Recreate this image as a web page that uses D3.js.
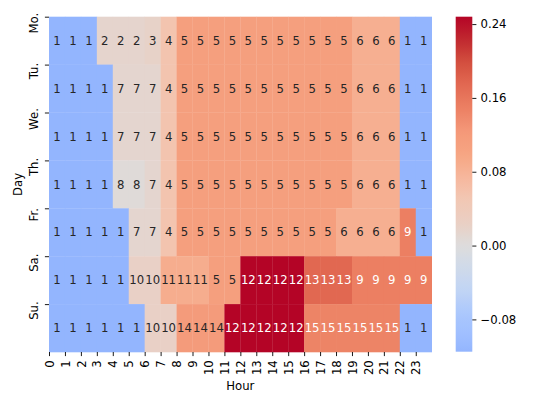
<!DOCTYPE html>
<html>
<head>
<meta charset="utf-8">
<script src="https://cdn.jsdelivr.net/npm/d3@7"></script>
<style>
  body { margin: 0; background: #fff; }
  text { font-family: "DejaVu Sans", sans-serif; }
</style>
</head>
<body>
<script>
// rows / columns of the heatmap
var days = ["Mo.", "Tu.", "We.", "Th.", "Fr.", "Sa.", "Su."];
var hours = d3.range(24);

// cluster label shown in each cell (one row per day)
var mo = [1,1,1,2,2,2,3,4,5,5,5,5,5,5,5,5,5,5,5,6,6,6,1,1];
var tu = [1,1,1,1,7,7,7,4,5,5,5,5,5,5,5,5,5,5,5,6,6,6,1,1];
var we = [1,1,1,1,7,7,7,4,5,5,5,5,5,5,5,5,5,5,5,6,6,6,1,1];
var th = [1,1,1,1,8,8,7,4,5,5,5,5,5,5,5,5,5,5,5,6,6,6,1,1];
var fr = [1,1,1,1,1,7,7,4,5,5,5,5,5,5,5,5,5,5,6,6,6,6,9,1];
var sa = [1,1,1,1,1,10,10,11,11,11,5,5,12,12,12,12,13,13,13,9,9,9,9,9];
var su = [1,1,1,1,1,1,10,10,14,14,14,12,12,12,12,12,15,15,15,15,15,15,1,1];
var labels = [mo, tu, we, th, fr, sa, su];

// colour value of each cluster (index = cluster label)
var clusterValue = [null, -0.115, 0.015, 0.02, 0.055, 0.11, 0.085, 0.013, 0.004,
                    0.15, 0.022, 0.088, 0.248, 0.175, 0.118, 0.145];

var cbTicks = [-0.08, 0.00, 0.08, 0.16, 0.24];
var vmin = -0.115, vmax = 0.248, center = 0;

// matplotlib "coolwarm"
var cwPos = [0, 0.25, 0.3, 0.35, 0.4, 0.45, 0.5, 0.55, 0.6, 0.65, 0.7, 0.75, 0.8, 0.85, 0.9, 0.95, 1];
var cwCol = ["#3b4cc0", "#8db0fe", "#9ebeff", "#aac7fd", "#c0d4f5", "#cfdaea", "#dddcdc",
             "#eacfc3", "#f2c8b4", "#f6b79c", "#f6a582", "#f49879", "#ec8063", "#e26952",
             "#d34f3f", "#c0282f", "#b40426"];
var coolwarm = d3.scaleLinear().domain(cwPos).range(cwCol).interpolate(d3.interpolateRgb);
var span = Math.max(vmax - center, center - vmin);
function color(v) { return coolwarm(0.5 + (v - center) / (2 * span)); }

function textColor(c) {
  var rgb = d3.rgb(c);
  var lin = [rgb.r, rgb.g, rgb.b].map(function(u) {
    u = u / 255;
    return u <= 0.03928 ? u / 12.92 : Math.pow((u + 0.055) / 1.055, 2.4);
  });
  var lum = 0.2126 * lin[0] + 0.7152 * lin[1] + 0.0722 * lin[2];
  return lum > 0.408 ? "#262626" : "#ffffff";
}

var W = 540, H = 405;
var fs = 11.7, tick = 4.1;
var plot = {left: 49, right: 431.7, top: 16.7, bottom: 352};
var cb = {left: 455.7, right: 472.3, top: 16.7, bottom: 351.7};

var svg = d3.select("body").append("svg")
    .attr("width", W)
    .attr("height", H);

var x = d3.scaleLinear().domain([0, 24]).range([plot.left, plot.right]);
var y = d3.scaleLinear().domain([0, 7]).range([plot.top, plot.bottom]);

// cells
var cells = [];
labels.forEach(function(row, r) {
  row.forEach(function(lab, c) {
    cells.push({r: r, c: c, lab: lab, v: clusterValue[lab]});
  });
});

svg.append("g").selectAll("rect")
  .data(cells)
  .enter().append("rect")
    .attr("x", function(d) { return x(d.c); })
    .attr("y", function(d) { return y(d.r); })
    .attr("width", x(1) - x(0) + 0.3)
    .attr("height", y(1) - y(0) + 0.3)
    .attr("fill", function(d) { return color(d.v); });

svg.append("g").selectAll("text")
  .data(cells)
  .enter().append("text")
    .attr("x", function(d) { return x(d.c + 0.5); })
    .attr("y", function(d) { return y(d.r + 0.5); })
    .attr("text-anchor", "middle")
    .attr("dy", "0.36em")
    .attr("font-size", fs)
    .attr("fill", function(d) { return textColor(color(d.v)); })
    .text(function(d) { return d.lab; });

// x axis: ticks sit on the left edge of each cell
var xAxis = svg.append("g")
    .attr("transform", "translate(0," + plot.bottom + ")")
    .call(d3.axisBottom(x).tickValues(hours).tickSize(tick).tickPadding(tick));
xAxis.select(".domain").remove();
xAxis.selectAll("line").attr("stroke", "#000").attr("stroke-width", 0.9);
xAxis.selectAll("text")
    .attr("font-size", fs)
    .attr("fill", "#000")
    .attr("text-anchor", "end")
    .attr("y", 0).attr("dy", "0.35em")
    .attr("transform", "translate(0," + (2 * tick) + ") rotate(-90)");

// y axis: ticks on the top edge of each row
var yAxis = svg.append("g")
    .attr("transform", "translate(" + plot.left + ",0)")
    .call(d3.axisLeft(y).tickValues(d3.range(7)).tickFormat(function(i) { return days[i]; })
      .tickSize(tick).tickPadding(tick));
yAxis.select(".domain").remove();
yAxis.selectAll("line").attr("stroke", "#000").attr("stroke-width", 0.9);
yAxis.selectAll("text")
    .attr("font-size", fs)
    .attr("fill", "#000")
    .attr("text-anchor", "middle")
    .attr("x", 0).attr("dy", 0)
    .attr("transform", "translate(-11,6) rotate(-90)");

svg.append("text")
    .attr("x", (plot.left + plot.right) / 2)
    .attr("y", 389.5)
    .attr("text-anchor", "middle")
    .attr("font-size", fs)
    .text("Hour");

svg.append("text")
    .attr("transform", "translate(21.7," + (plot.top + plot.bottom) / 2 + ") rotate(-90)")
    .attr("text-anchor", "middle")
    .attr("font-size", fs)
    .text("Day");

// colour bar
var cbScale = d3.scaleLinear().domain([vmin, vmax]).range([cb.bottom, cb.top]);
var grad = svg.append("defs").append("linearGradient")
    .attr("id", "cbgrad")
    .attr("x1", 0).attr("y1", 1).attr("x2", 0).attr("y2", 0);
d3.range(0, 1.0001, 0.02).forEach(function(t) {
  grad.append("stop")
    .attr("offset", t)
    .attr("stop-color", color(vmin + t * (vmax - vmin)));
});
svg.append("rect")
    .attr("x", cb.left)
    .attr("y", cb.top)
    .attr("width", cb.right - cb.left)
    .attr("height", cb.bottom - cb.top)
    .attr("fill", "url(#cbgrad)");

var cbAxis = svg.append("g")
    .attr("transform", "translate(" + cb.right + ",0)")
    .call(d3.axisRight(cbScale).tickValues(cbTicks).tickFormat(d3.format(".2f"))
      .tickSize(tick).tickPadding(tick));
cbAxis.select(".domain").remove();
cbAxis.selectAll("line").attr("stroke", "#000").attr("stroke-width", 0.9);
cbAxis.selectAll("text").attr("font-size", fs).attr("fill", "#000");
</script>
</body>
</html>
